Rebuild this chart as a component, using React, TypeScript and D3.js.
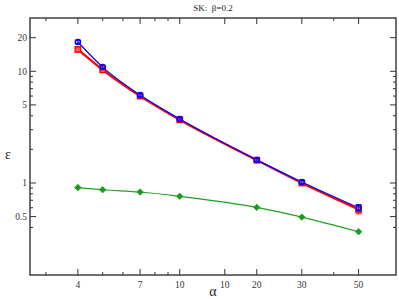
import React from "react";
import * as d3 from "d3";

// alpha values (x) and epsilon series (y)
const alphas = [4, 5, 7, 10, 20, 30, 50];
const blueEps = [18.3, 10.9, 6.13, 3.74, 1.61, 1.02, 0.6];
const blueErr = [0.7, 0.4, 0.15, 0.08, 0.04, 0.03, 0.04];
const redEps = [15.7, 10.3, 6.0, 3.68, 1.6, 1.0, 0.58];
const redErr = [0.8, 0.4, 0.15, 0.08, 0.04, 0.03, 0.05];
const greenEps = [0.91, 0.87, 0.83, 0.76, 0.605, 0.495, 0.366];

// axis ticks (the source labels the 15 tick as "10")
const xMajor = [4, 7, 10, 15, 20, 30, 50];
const xMajorLabels = ["4", "7", "10", "10", "20", "30", "50"];
const xMinor = [3, 5, 6, 8, 9, 40];
const yMajor = [20, 10, 5, 1, 0.5];
const yMajorLabels = ["20", "10", "5", "1", "0.5"];
const yMinor = [9, 8, 7, 6, 4, 3, 2, 0.9, 0.8, 0.7, 0.6, 0.4];

const App = () => {
  const width = 399;
  const height = 299;
  const left = 30, right = 396, top = 18, bottom = 275;

  const x = d3.scaleLog().domain([2.6, 70]).range([left, right]);
  const y = d3.scaleLog().domain([0.15, 30]).range([bottom, top]);

  const line = (vals: number[]) =>
    d3
      .line<number>()
      .x((_, i) => x(alphas[i]))
      .y((d) => y(d))
      .curve(d3.curveMonotoneX)(vals) as string;

  const font = "'Liberation Serif', 'DejaVu Serif', serif";
  const axisColor = "#333";
  const major = 6, minor = 3;

  return (
    <svg
      width={width}
      height={height}
      style={{ position: "absolute", left: 0, top: 0, background: "#fff" }}
    >
      <text x={213} y={11} textAnchor="middle" fontFamily={font} fontSize={9} fill="#222">
        {"SK:\u00a0 β=0.2"}
      </text>

      {/* data lines */}
      <path d={line(redEps)} fill="none" stroke="#ff0000" strokeWidth={2.2} />
      <path d={line(blueEps)} fill="none" stroke="#0000ff" strokeWidth={1.2} />
      <path d={line(greenEps)} fill="none" stroke="#22a022" strokeWidth={1.2} />

      {/* red squares with error bars */}
      {redEps.map((v, i) => (
        <g key={"r" + i}>
          <line x1={x(alphas[i])} x2={x(alphas[i])} y1={y(v + redErr[i])} y2={y(v - redErr[i])} stroke="#ff0000" strokeWidth={1} />
          <line x1={x(alphas[i]) - 3} x2={x(alphas[i]) + 3} y1={y(v + redErr[i])} y2={y(v + redErr[i])} stroke="#ff0000" strokeWidth={1} />
          <line x1={x(alphas[i]) - 3} x2={x(alphas[i]) + 3} y1={y(v - redErr[i])} y2={y(v - redErr[i])} stroke="#ff0000" strokeWidth={1} />
          <rect x={x(alphas[i]) - 2.7} y={y(v) - 2.7} width={5.4} height={5.4} fill="#ff6060" stroke="#ff0000" strokeWidth={1.4} />
        </g>
      ))}

      {/* blue circles with error bars */}
      {blueEps.map((v, i) => (
        <g key={"b" + i}>
          <line x1={x(alphas[i])} x2={x(alphas[i])} y1={y(v + blueErr[i])} y2={y(v - blueErr[i])} stroke="#0000ff" strokeWidth={1} />
          <line x1={x(alphas[i]) - 3} x2={x(alphas[i]) + 3} y1={y(v + blueErr[i])} y2={y(v + blueErr[i])} stroke="#0000ff" strokeWidth={1} />
          <line x1={x(alphas[i]) - 3} x2={x(alphas[i]) + 3} y1={y(v - blueErr[i])} y2={y(v - blueErr[i])} stroke="#0000ff" strokeWidth={1} />
          <circle cx={x(alphas[i])} cy={y(v)} r={2.5} fill="none" stroke="#0000ff" strokeWidth={1.5} />
        </g>
      ))}

      {/* green diamonds */}
      {greenEps.map((v, i) => (
        <path
          key={"g" + i}
          d={`M${x(alphas[i])},${y(v) - 3.2}l3.2,3.2l-3.2,3.2l-3.2,-3.2z`}
          fill="#1a9a1a"
          stroke="#1a9a1a"
          strokeWidth={0.8}
        />
      ))}

      {/* frame */}
      <rect x={left} y={top} width={right - left} height={bottom - top} fill="none" stroke={axisColor} strokeWidth={1.4} />

      {/* x ticks */}
      {xMajor.map((t, i) => (
        <g key={"xm" + i}>
          <line x1={x(t)} x2={x(t)} y1={bottom} y2={bottom - major} stroke={axisColor} />
          <line x1={x(t)} x2={x(t)} y1={top} y2={top + major} stroke={axisColor} />
          <text x={x(t)} y={bottom + 13} textAnchor="middle" fontFamily={font} fontSize={9.5} fill="#333">
            {xMajorLabels[i]}
          </text>
        </g>
      ))}
      {xMinor.map((t, i) => (
        <g key={"xn" + i}>
          <line x1={x(t)} x2={x(t)} y1={bottom} y2={bottom - minor} stroke={axisColor} />
          <line x1={x(t)} x2={x(t)} y1={top} y2={top + minor} stroke={axisColor} />
        </g>
      ))}

      {/* y ticks */}
      {yMajor.map((t, i) => (
        <g key={"ym" + i}>
          <line x1={left} x2={left + major} y1={y(t)} y2={y(t)} stroke={axisColor} />
          <line x1={right} x2={right - major} y1={y(t)} y2={y(t)} stroke={axisColor} />
          <text x={left - 3} y={y(t) + 3.5} textAnchor="end" fontFamily={font} fontSize={9.5} fill="#333">
            {yMajorLabels[i]}
          </text>
        </g>
      ))}
      {yMinor.map((t, i) => (
        <g key={"yn" + i}>
          <line x1={left} x2={left + minor} y1={y(t)} y2={y(t)} stroke={axisColor} />
          <line x1={right} x2={right - minor} y1={y(t)} y2={y(t)} stroke={axisColor} />
        </g>
      ))}

      {/* axis labels */}
      <text x={8} y={159} textAnchor="middle" fontFamily={font} fontSize={14} fill="#222">
        ε
      </text>
      <text x={213} y={296} textAnchor="middle" fontFamily={font} fontSize={14} fill="#222">
        α
      </text>
    </svg>
  );
};

export default App;
